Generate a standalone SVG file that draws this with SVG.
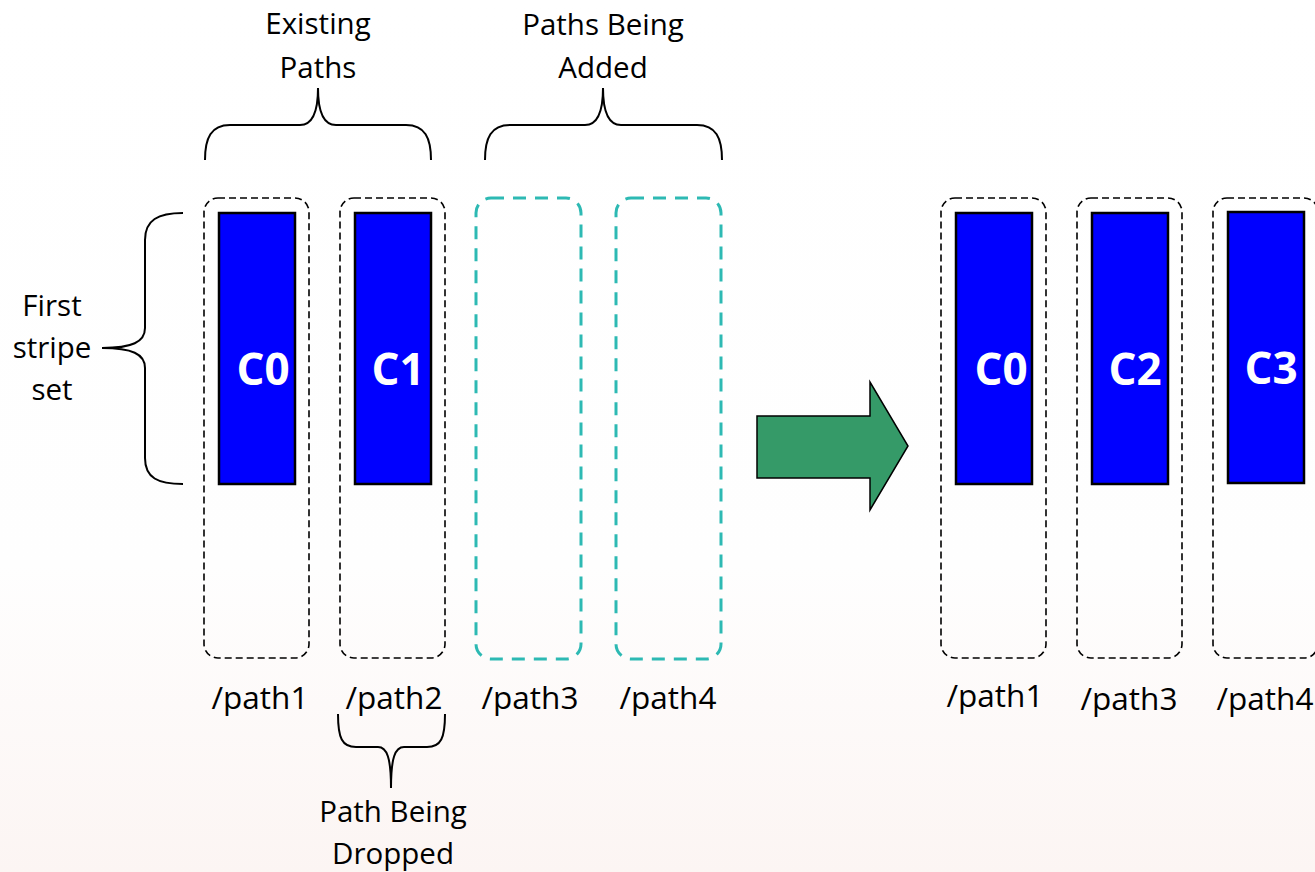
<svg xmlns="http://www.w3.org/2000/svg" width="1315" height="872" viewBox="0 0 1315 872">
<defs>
<linearGradient id="bg" x1="0" y1="0" x2="0" y2="1">
<stop offset="0" stop-color="#ffffff"/>
<stop offset="0.65" stop-color="#fefefe"/>
<stop offset="1" stop-color="#fcf5f3"/>
</linearGradient>
<style>
.txt{font-family:"Open Sans","Liberation Sans",sans-serif;font-size:29.5px;fill:#000;text-anchor:middle}
.lbl{font-family:"Open Sans","Liberation Sans",sans-serif;font-size:31.5px;fill:#000;text-anchor:middle}
.cl{font-family:"Open Sans","Liberation Sans",sans-serif;font-size:44px;font-weight:bold;fill:#fff;text-anchor:middle}
.dash{fill:none;stroke:#000;stroke-width:1.6;stroke-dasharray:7 4}
.teal{fill:none;stroke:#2db9b3;stroke-width:3;stroke-dasharray:13 9}
.blue{fill:#0000ff;stroke:#000;stroke-width:2.5}
.brace{fill:none;stroke:#000;stroke-width:2}
</style>
</defs>
<rect x="0" y="0" width="1315" height="872" fill="url(#bg)"/>

<g id="label-existing">
<text class="txt" x="318" y="34">Existing</text>
<text class="txt" x="318" y="78">Paths</text>
</g>
<g id="label-added">
<text class="txt" x="603" y="35">Paths Being</text>
<text class="txt" x="603" y="78">Added</text>
</g>
<g id="label-first">
<text class="txt" x="52" y="316">First</text>
<text class="txt" x="52" y="358">stripe</text>
<text class="txt" x="52" y="400">set</text>
</g>
<g id="label-dropped">
<text class="txt" x="393" y="822">Path Being</text>
<text class="txt" x="393" y="864">Dropped</text>
</g>

<g id="connectors">
<path class="brace" d="M205,160 C205,138 211,125 230,125 L300,125 C312,125 318,114 318,88 C318,114 324,125 336,125 L406,125 C425,125 431,138 431,160"/>
<path class="brace" d="M485,160 C485,138 491,125 510,125 L585,125 C597,125 603,114 603,88 C603,114 609,125 621,125 L697,125 C716,125 722,138 722,160"/>
<path class="brace" d="M183,213 C158,213 145,220 145,240 L145,328 C145,342 132,348 102,348 C132,348 145,354 145,368 L145,458 C145,478 158,484 183,484"/>
<path class="brace" d="M338,714 C338,738 342,747 356,747 L378,747 C387,747 391,758 391,788 C391,758 395,747 404,747 L427,747 C441,747 445,738 445,714"/>
<path id="transition-arrow" d="M757,416 L870,416 L870,382 L908,446 L870,510 L870,478 L757,478 Z" fill="#359a68" stroke="#000" stroke-width="1.5" stroke-linejoin="miter"/>
</g>

<g id="path1-before">
<rect class="dash" x="204" y="198" width="105" height="460" rx="14"/>
<rect class="blue" x="219" y="213" width="76" height="271"/>
<text class="cl" x="263" y="385">C0</text>
<text class="lbl" x="260" y="709">/path1</text>
</g>
<g id="path2-before">
<rect class="dash" x="340" y="198" width="105" height="460" rx="14"/>
<rect class="blue" x="355" y="213" width="76" height="271"/>
<text class="cl" x="398" y="385">C1</text>
<text class="lbl" x="394" y="709">/path2</text>
</g>
<g id="path3-before">
<rect class="teal" x="476" y="198" width="105" height="461" rx="15"/>
<text class="lbl" x="530" y="709">/path3</text>
</g>
<g id="path4-before">
<rect class="teal" x="616" y="198" width="105" height="461" rx="15"/>
<text class="lbl" x="668" y="709">/path4</text>
</g>

<g id="path1-after">
<rect class="dash" x="941" y="198" width="105" height="460" rx="14"/>
<rect class="blue" x="956" y="213" width="76" height="271"/>
<text class="cl" x="1001" y="385">C0</text>
<text class="lbl" x="995" y="707">/path1</text>
</g>
<g id="path3-after">
<rect class="dash" x="1077" y="198" width="105" height="460" rx="14"/>
<rect class="blue" x="1092" y="213" width="76" height="271"/>
<text class="cl" x="1135" y="385">C2</text>
<text class="lbl" x="1129" y="710">/path3</text>
</g>
<g id="path4-after">
<rect class="dash" x="1213" y="198" width="105" height="460" rx="14"/>
<rect class="blue" x="1228" y="212" width="76" height="271"/>
<text class="cl" x="1271" y="384">C3</text>
<text class="lbl" x="1265" y="710">/path4</text>
</g>
</svg>
